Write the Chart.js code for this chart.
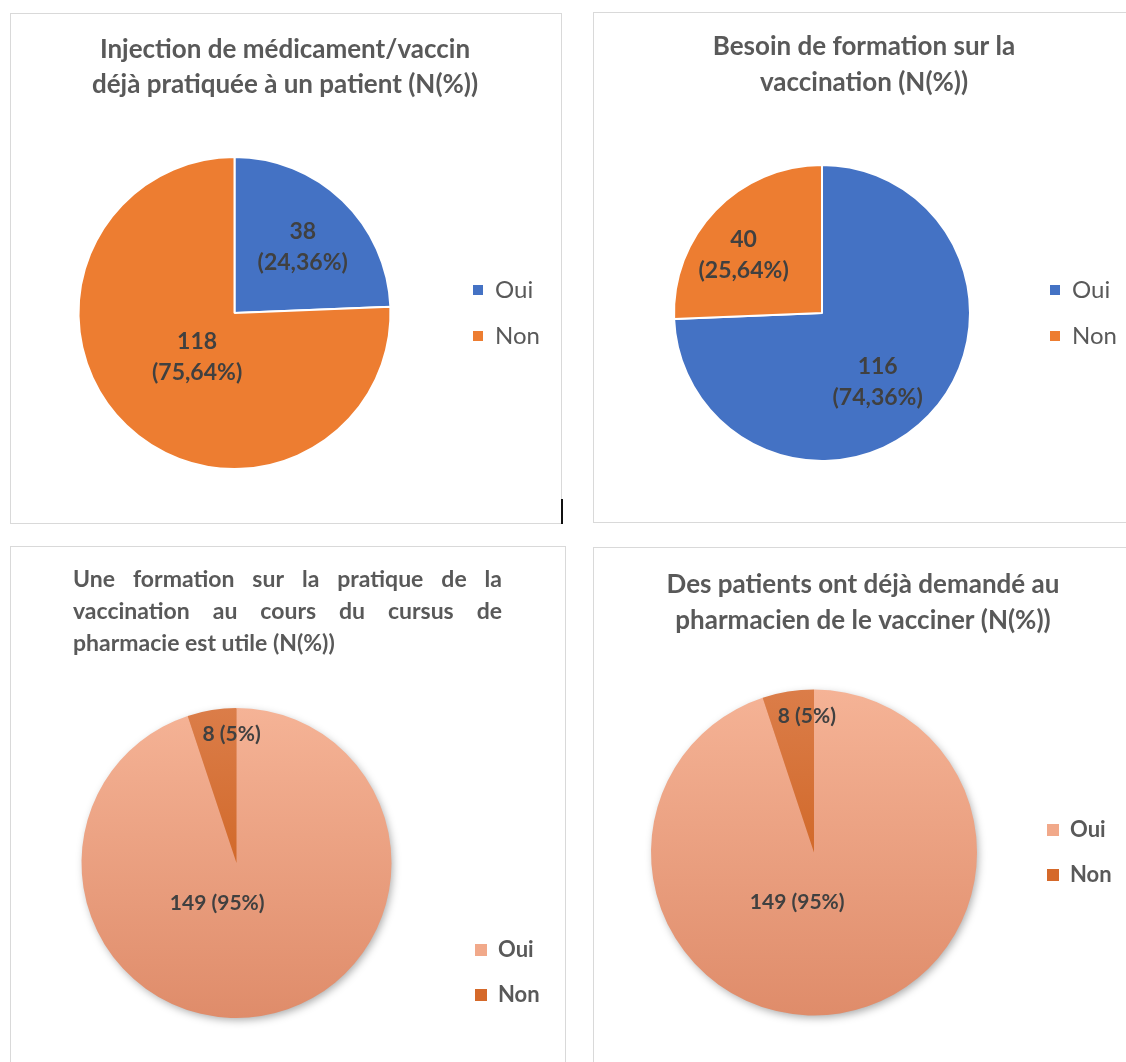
<!DOCTYPE html>
<html>
<head>
<meta charset="utf-8">
<script src="https://cdn.jsdelivr.net/npm/chart.js@4.4.1/dist/chart.umd.min.js"></script>
<style>
  html, body { margin: 0; padding: 0; width: 1126px; height: 1062px; overflow: hidden; background: #fff; }
  .panel { position: absolute; border: 1.5px solid #D9D9D9; box-sizing: border-box; }
  canvas { position: absolute; left: 0; top: 0; }
  .mark { position: absolute; left: 561px; top: 499px; width: 2px; height: 25px; background: #111; }
</style>
</head>
<body>
<div class="panel" style="left:10px;top:13px;width:552px;height:511px"></div>
<div class="panel" style="left:593px;top:12px;width:600px;height:511px"></div>
<div class="panel" style="left:10px;top:546px;width:556px;height:600px"></div>
<div class="panel" style="left:593px;top:547px;width:600px;height:600px"></div>
<div class="mark"></div>
<canvas id="chart_injection" width="1300" height="1062"></canvas>
<canvas id="chart_besoin" width="1300" height="1062"></canvas>
<canvas id="chart_cursus" width="1300" height="1062"></canvas>
<canvas id="chart_demande" width="1300" height="1062"></canvas>
<script>
// data
var categories = ["Oui", "Non"];
var injectionValues = [38, 118];
var besoinValues = [116, 40];
var cursusValues = [149, 8];
var demandeValues = [149, 8];

var injectionTitle = ["Injection de médicament/vaccin", "déjà pratiquée à un patient (N(%))"];
var besoinTitle = ["Besoin de formation sur la", "vaccination (N(%))"];
var cursusTitle = ["Une formation sur la pratique de la", "vaccination au cours du cursus de", "pharmacie est utile (N(%))"];
var demandeTitle = ["Des patients ont déjà demandé au", "pharmacien de le vacciner (N(%))"];

var FONT = "Lato, 'Noto Sans', sans-serif";
var CANVAS_W = 1300, CANVAS_H = 1062;

Chart.defaults.font.family = FONT;

function fmtPct(v, total, dec) {
  return (v / total * 100).toFixed(dec).replace(".", ",") + "%";
}

// draws titles, data labels and (optional) pie shadow
var extrasPlugin = {
  id: "extras",
  beforeDatasetsDraw: function (chart, args, o) {
    if (!o.shadow) return;
    var ctx = chart.ctx;
    ctx.save();
    ctx.shadowColor = "rgba(0,0,0,0.35)";
    ctx.shadowBlur = 8;
    ctx.shadowOffsetX = 2;
    ctx.shadowOffsetY = 3;
    ctx.fillStyle = "#e8a080";
    ctx.beginPath();
    ctx.arc(o.cx, o.cy, o.r - 1, 0, Math.PI * 2);
    ctx.fill();
    ctx.restore();
  },
  afterDatasetsDraw: function (chart, args, o) {
    var ctx = chart.ctx;
    var meta = chart.getDatasetMeta(0);
    var values = chart.data.datasets[0].data;
    var total = values.reduce(function (a, b) { return a + b; }, 0);
    ctx.save();
    ctx.fillStyle = "#404040";
    ctx.font = "bold " + o.labelSize + "px " + FONT;
    ctx.textAlign = "center";
    ctx.textBaseline = "middle";
    meta.data.forEach(function (arc, i) {
      var spot = o.spots[i];
      var a = spot[0] * Math.PI / 180;
      var d = spot[1] * arc.outerRadius;
      var x = arc.x + Math.sin(a) * d;
      var y = arc.y - Math.cos(a) * d;
      var pct = fmtPct(values[i], total, o.decimals);
      if (o.twoLines) {
        ctx.fillText(String(values[i]), x, y - o.lineGap / 2);
        ctx.fillText("(" + pct + ")", x, y + o.lineGap / 2);
      } else {
        ctx.fillText(values[i] + " (" + pct + ")", x, y);
      }
    });
    ctx.restore();
  },
  afterDraw: function (chart, args, o) {
    var ctx = chart.ctx;
    var t = o.title;
    ctx.save();
    ctx.fillStyle = "#595959";
    ctx.font = "bold " + t.size + "px " + FONT;
    ctx.textBaseline = "middle";
    t.lines.forEach(function (line, i) {
      var y = t.y[i];
      if (t.justify && i < t.lines.length - 1) {
        var words = line.split(" ");
        var widths = words.map(function (w) { return ctx.measureText(w).width; });
        var sum = widths.reduce(function (a, b) { return a + b; }, 0);
        var gap = (t.right - t.left - sum) / (words.length - 1);
        var x = t.left;
        ctx.textAlign = "left";
        words.forEach(function (w, k) {
          ctx.fillText(w, x, y);
          x += widths[k] + gap;
        });
      } else if (t.justify) {
        ctx.textAlign = "left";
        ctx.fillText(line, t.left, y);
      } else {
        ctx.textAlign = "center";
        ctx.fillText(line, t.x, y);
      }
    });
    ctx.restore();
  }
};

function makePie(id, values, s) {
  // legend width as Chart.js computes it for a vertical legend
  var m = document.createElement("canvas").getContext("2d");
  m.font = s.legendWeight + " " + s.legendSize + "px " + FONT;
  var textW = Math.max.apply(null, categories.map(function (c) { return m.measureText(c).width; }));
  var legendW = s.legendPad + s.box + s.legendSize / 2 + textW + 10;
  var legendLeft = s.boxX - s.legendPad;
  var half = legendLeft - s.cx;

  var solid = s.colors;
  var config = {
    type: "pie",
    data: {
      labels: categories,
      datasets: [{
        data: values,
        radius: s.r,
        borderWidth: s.border,
        borderColor: "#ffffff",
        backgroundColor: function (context) {
          var i = context.dataIndex;
          if (!s.gradients) return solid[i];
          var g = context.chart.ctx.createLinearGradient(0, s.cy - s.r, 0, s.cy + s.r);
          g.addColorStop(0, s.gradients[i][0]);
          g.addColorStop(1, s.gradients[i][1]);
          return g;
        }
      }]
    },
    options: {
      responsive: false,
      animation: false,
      events: [],
      layout: {
        padding: {
          left: s.cx - half,
          right: CANVAS_W - legendLeft - legendW,
          top: s.cy - s.halfH,
          bottom: CANVAS_H - (s.cy + s.halfH)
        }
      },
      plugins: {
        tooltip: { enabled: false },
        legend: {
          position: "right",
          align: s.legendAlign,
          labels: {
            boxWidth: s.box,
            boxHeight: s.box,
            padding: s.legendPad,
            color: "#595959",
            font: { size: s.legendSize, weight: s.legendWeight },
            generateLabels: function (chart) {
              return categories.map(function (c, i) {
                return {
                  text: c, fillStyle: solid[i], strokeStyle: solid[i], lineWidth: 0,
                  fontColor: "#595959", hidden: false, index: i
                };
              });
            }
          }
        },
        extras: {
          cx: s.cx, cy: s.cy, r: s.r, shadow: s.shadow,
          labelSize: s.labelSize, lineGap: s.lineGap, twoLines: s.twoLines,
          decimals: s.decimals, spots: s.spots, title: s.title
        }
      }
    },
    plugins: [extrasPlugin]
  };
  return new Chart(document.getElementById(id), config);
}

var blueOrange = ["#4472C4", "#ED7D31"];
var salmon = ["#F1A98A", "#D5692A"];
var salmonGrad = [["#F5B396", "#DF8C6A"], ["#DB7D49", "#C8560C"]];

makePie("chart_injection", injectionValues, {
  cx: 234.5, cy: 313, r: 156, halfH: 170, border: 2, colors: blueOrange,
  boxX: 473, box: 10, legendPad: 22, legendSize: 24, legendWeight: "normal", legendAlign: "center",
  labelSize: 23, lineGap: 31, twoLines: true, decimals: 2,
  spots: [[45.8, 0.61], [220.4, 0.37]],
  title: { lines: injectionTitle, x: 285, y: [50, 85], size: 26 }
});

makePie("chart_besoin", besoinValues, {
  cx: 822, cy: 313, r: 148, halfH: 170, border: 2, colors: blueOrange,
  boxX: 1050, box: 10, legendPad: 22, legendSize: 24, legendWeight: "normal", legendAlign: "center",
  labelSize: 23, lineGap: 31, twoLines: true, decimals: 2,
  spots: [[141.2, 0.60], [306.6, 0.66]],
  title: { lines: besoinTitle, x: 864, y: [47, 83], size: 26 }
});

makePie("chart_cursus", cursusValues, {
  cx: 236.5, cy: 863, r: 155, halfH: 166, border: 0, colors: salmon, gradients: salmonGrad, shadow: true,
  boxX: 475, box: 12, legendPad: 23, legendSize: 22, legendWeight: "bold", legendAlign: "end",
  labelSize: 21, twoLines: false, decimals: 0,
  spots: [[205.4, 0.29], [357.8, 0.83]],
  title: { lines: cursusTitle, justify: true, left: 73, right: 502, y: [580, 612, 644], size: 23 }
});

makePie("chart_demande", demandeValues, {
  cx: 814, cy: 852.5, r: 163, halfH: 175, border: 0, colors: salmon, gradients: salmonGrad, shadow: true,
  boxX: 1047, box: 12, legendPad: 23, legendSize: 22, legendWeight: "bold", legendAlign: "center",
  labelSize: 21, twoLines: false, decimals: 0,
  spots: [[198.8, 0.32], [357, 0.84]],
  title: { lines: demandeTitle, x: 863, y: [585, 621], size: 26 }
});
</script>
</body>
</html>
